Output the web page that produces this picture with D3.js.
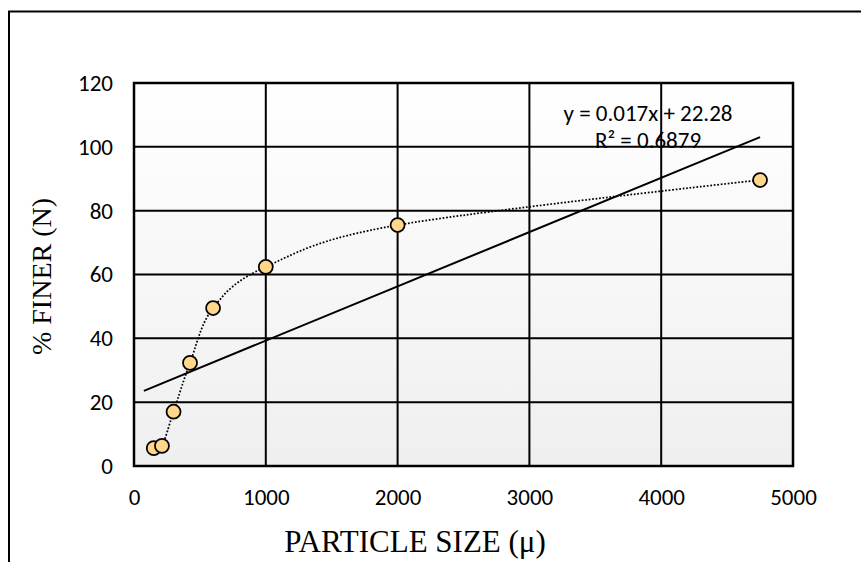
<!DOCTYPE html>
<html>
<head>
<meta charset="utf-8">
<script src="https://cdn.jsdelivr.net/npm/d3@7"></script>
<style>
  body { margin: 0; background: #fff; }
  .tick text { font-family: Carlito, "Open Sans", sans-serif; }
</style>
</head>
<body>
<div class="graph-pane"></div>
<script>
// sieve data
var particleSize = [150, 212, 300, 425, 600, 1000, 2000, 4750];
var percentFiner = [5.6, 6.3, 17, 32.3, 49.5, 62.4, 75.5, 89.6];
var xTicks = [0, 1000, 2000, 3000, 4000, 5000];
var yTicks = [0, 20, 40, 60, 80, 100, 120];
// linear trendline as printed on the chart
var trendSlope = 0.017;
var trendIntercept = 22.28;
var trendRange = [75, 4750];
var trendLabel = "y = 0.017x + 22.28";
var r2Label = "R\u00b2 = 0.6879";

var width = 861, height = 562;
var margin = {left: 134, right: 68, top: 83, bottom: 96};

var svg = d3.select('.graph-pane')
  .append('svg')
  .attr('width', width)
  .attr('height', height);

// outer chart frame (only top and left edges show)
svg.append('path')
  .attr('d', 'M9,' + height + 'V11.5H' + width)
  .attr('fill', 'none')
  .attr('stroke', '#000')
  .attr('stroke-width', 2);

var xScale = d3.scaleLinear().domain([0, 5000]).range([margin.left, width - margin.right]);
var yScale = d3.scaleLinear().domain([0, 120]).range([height - margin.bottom, margin.top]);

var grad = svg.append('defs').append('linearGradient')
  .attr('id', 'plotBg').attr('x1', 0).attr('y1', 0).attr('x2', 0).attr('y2', 1);
grad.append('stop').attr('offset', '0%').attr('stop-color', '#ffffff');
grad.append('stop').attr('offset', '100%').attr('stop-color', '#efefef');

svg.append('rect')
  .attr('x', xScale(0))
  .attr('y', yScale(120))
  .attr('width', xScale(5000) - xScale(0))
  .attr('height', yScale(0) - yScale(120))
  .attr('fill', 'url(#plotBg)');

// gridlines
svg.append('g').selectAll('line.v')
  .data(xTicks).enter().append('line')
  .attr('x1', d => xScale(d)).attr('x2', d => xScale(d))
  .attr('y1', yScale(0)).attr('y2', yScale(120))
  .attr('stroke', '#000').attr('stroke-width', 2);
svg.append('g').selectAll('line.h')
  .data(yTicks).enter().append('line')
  .attr('x1', xScale(0)).attr('x2', xScale(5000))
  .attr('y1', d => yScale(d)).attr('y2', d => yScale(d))
  .attr('stroke', '#000').attr('stroke-width', 2);

svg.append('rect')
  .attr('x', xScale(0))
  .attr('y', yScale(120))
  .attr('width', xScale(5000) - xScale(0))
  .attr('height', yScale(0) - yScale(120))
  .attr('fill', 'none')
  .attr('stroke', '#000')
  .attr('stroke-width', 2.5);

// axes, labels only
var xAxis = d3.axisBottom(xScale).tickValues(xTicks).tickFormat(d3.format('d')).tickSize(0).tickPadding(23);
var yAxis = d3.axisLeft(yScale).tickValues(yTicks).tickFormat(d3.format('d')).tickSize(0).tickPadding(21);

svg.append('g')
  .attr('transform', 'translate(0,' + yScale(0) + ')')
  .call(xAxis)
  .call(g => g.select('.domain').remove())
  .selectAll('text').attr('font-size', 23).attr('fill', '#000');

svg.append('g')
  .attr('transform', 'translate(' + xScale(0) + ',0)')
  .call(yAxis)
  .call(g => g.select('.domain').remove())
  .selectAll('text').attr('font-size', 23).attr('fill', '#000');

// axis titles
svg.append('text')
  .attr('x', 415)
  .attr('y', 552)
  .attr('text-anchor', 'middle')
  .attr('font-family', '"Liberation Serif", "Times New Roman", serif')
  .attr('font-size', 31)
  .text('PARTICLE SIZE (\u03bc)');

svg.append('text')
  .attr('transform', 'translate(51,' + ((yScale(0) + yScale(120)) / 2 + 2) + ') rotate(-90)')
  .attr('text-anchor', 'middle')
  .attr('font-family', '"Liberation Serif", "Times New Roman", serif')
  .attr('font-size', 28)
  .text('% FINER (N)');

// trendline
svg.append('line')
  .attr('x1', xScale(trendRange[0]))
  .attr('y1', yScale(trendIntercept + trendSlope * trendRange[0]))
  .attr('x2', xScale(trendRange[1]))
  .attr('y2', yScale(trendIntercept + trendSlope * trendRange[1]))
  .attr('stroke', '#000')
  .attr('stroke-width', 2);

// smoothed dotted line through the points
var points = particleSize.map((x, i) => ({x: x, y: percentFiner[i]}));
var line = d3.line()
  .x(d => xScale(d.x))
  .y(d => yScale(d.y))
  .curve(d3.curveCatmullRom.alpha(0));

svg.append('path')
  .attr('d', line(points))
  .attr('fill', 'none')
  .attr('stroke', '#000')
  .attr('stroke-width', 1.75)
  .attr('stroke-dasharray', '1.75,1.75');

svg.append('g').selectAll('circle')
  .data(points).enter().append('circle')
  .attr('cx', d => xScale(d.x))
  .attr('cy', d => yScale(d.y))
  .attr('r', 7)
  .attr('fill', '#ffd68a')
  .attr('stroke', '#000')
  .attr('stroke-width', 1.75);

// trendline label
var labelX = 648;
svg.append('text')
  .attr('x', labelX).attr('y', 121)
  .attr('text-anchor', 'middle')
  .attr('font-family', 'Carlito, "Open Sans", sans-serif')
  .attr('font-size', 23)
  .text(trendLabel);
svg.append('text')
  .attr('x', labelX).attr('y', 148)
  .attr('text-anchor', 'middle')
  .attr('font-family', 'Carlito, "Open Sans", sans-serif')
  .attr('font-size', 23)
  .text(r2Label);
</script>
</body>
</html>
